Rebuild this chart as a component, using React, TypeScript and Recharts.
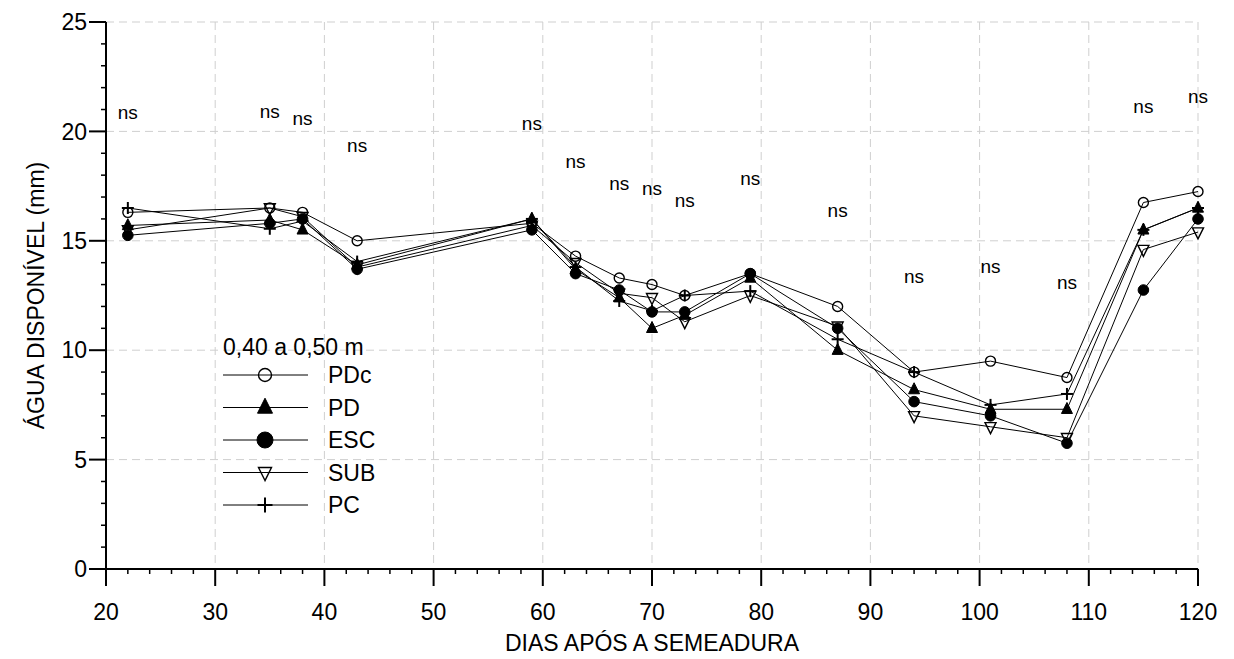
import React from "react";
import { LineChart, Line, XAxis, YAxis, CartesianGrid, Legend } from "recharts";

const days = [22, 35, 38, 43, 59, 63, 67, 70, 73, 79, 87, 94, 101, 108, 115, 120];
const pdc = [16.3, 16.5, 16.3, 15.0, 15.8, 14.3, 13.3, 13.0, 12.5, 13.5, 12.0, 9.0, 9.5, 8.75, 16.75, 17.25];
const pd = [15.7, 15.95, 15.5, 13.9, 16.0, 13.7, 12.4, 11.0, 11.6, 13.3, 10.0, 8.2, 7.3, 7.3, 15.5, 16.5];
const esc = [15.25, 15.8, 16.0, 13.7, 15.5, 13.5, 12.75, 11.75, 11.75, 13.5, 11.0, 7.65, 7.0, 5.75, 12.75, 16.0];
const sub = [15.5, 16.5, 16.1, 13.8, 15.7, 14.0, 12.6, 12.4, 11.3, 12.5, 11.1, 7.0, 6.5, 6.0, 14.6, 15.4];
const pc = [16.5, 15.55, 15.9, 14.05, 16.0, 13.8, 12.25, 11.8, 12.5, 12.7, 10.5, 9.0, 7.5, 8.0, 15.5, 16.5];
// height where the "ns" note sits above each date
const nsLevel = [20.86, 20.93, 20.6, 19.38, 20.38, 18.65, 17.63, 17.4, 16.88, 17.87, 16.4, 13.4, 13.85, 13.1, 21.15, 21.63];

const seriesOrder = ["PDc", "PD", "ESC", "SUB", "PC"];
const xTicks = Array.from({ length: 51 }, (_, i) => 20 + i * 2);
const yTicks = Array.from({ length: 26 }, (_, i) => i);

const legendTitle = "0,40 a 0,50 m";
const FONT = "'Liberation Sans', Arial, sans-serif";

const data = days.map((d, i) => ({
  day: d,
  PDc: pdc[i],
  PD: pd[i],
  ESC: esc[i],
  SUB: sub[i],
  PC: pc[i],
  ns: nsLevel[i],
}));

type M = { cx: number; cy: number; s: number };

const OpenCircle = ({ cx, cy, s }: M) => <circle cx={cx} cy={cy} r={s} fill="none" stroke="#000" strokeWidth={1.4} />;
const FilledCircle = ({ cx, cy, s }: M) => <circle cx={cx} cy={cy} r={s} fill="#000" stroke="#000" />;
const TriUp = ({ cx, cy, s }: M) => (
  <polygon
    points={`${cx},${cy - s * 0.62} ${cx - s / 2},${cy + s * 0.38} ${cx + s / 2},${cy + s * 0.38}`}
    fill="#000"
    stroke="#000"
  />
);
const TriDown = ({ cx, cy, s }: M) => (
  <polygon
    points={`${cx},${cy + s * 0.62} ${cx - s / 2},${cy - s * 0.38} ${cx + s / 2},${cy - s * 0.38}`}
    fill="none"
    stroke="#000"
    strokeWidth={1.4}
  />
);
const Plus = ({ cx, cy, s }: M) => (
  <g stroke="#000" strokeWidth={2}>
    <line x1={cx - s / 2} y1={cy} x2={cx + s / 2} y2={cy} />
    <line x1={cx} y1={cy - s / 2} x2={cx} y2={cy + s / 2} />
  </g>
);

const markers: Record<string, { C: (p: M) => React.ReactElement; chart: number; legend: number }> = {
  PDc: { C: OpenCircle, chart: 5, legend: 6.5 },
  PD: { C: TriUp, chart: 11, legend: 15 },
  ESC: { C: FilledCircle, chart: 5.3, legend: 8 },
  SUB: { C: TriDown, chart: 11, legend: 13 },
  PC: { C: Plus, chart: 12, legend: 15 },
};

const dotFor = (key: string) => (p: any) => {
  const m = markers[key];
  return <m.C key={`${key}-${p.index}`} cx={p.cx} cy={p.cy} s={m.chart} />;
};

const XTick = (p: any) => {
  const v = p.payload.value;
  const major = v % 10 === 0;
  return (
    <g>
      <line x1={p.x} y1={p.y} x2={p.x} y2={p.y + (major ? 17 : 5)} stroke="#000" strokeWidth={major ? 2 : 1.5} />
      {major && (
        <text x={p.x} y={p.y + 51} textAnchor="middle" fontSize={23} fontFamily={FONT} fill="#000">
          {v}
        </text>
      )}
    </g>
  );
};

const YTick = (p: any) => {
  const v = p.payload.value;
  const major = v % 5 === 0;
  return (
    <g>
      <line x1={p.x} y1={p.y} x2={p.x - (major ? 17 : 5)} y2={p.y} stroke="#000" strokeWidth={major ? 2 : 1.5} />
      {major && (
        <text x={p.x - 19} y={p.y} dy="0.36em" textAnchor="end" fontSize={23} fontFamily={FONT} fill="#000">
          {v}
        </text>
      )}
    </g>
  );
};

const nsLabel = (p: any) => (
  <text key={`ns-${p.index}`} x={p.x} y={p.y} dy="0.36em" textAnchor="middle" fontSize={19} fontFamily={FONT} fill="#000">
    ns
  </text>
);

const LegendBox = (props: any) => {
  const items = (props.payload || [])
    .filter((e: any) => markers[e.dataKey])
    .sort((a: any, b: any) => seriesOrder.indexOf(a.dataKey) - seriesOrder.indexOf(b.dataKey));
  return (
    <svg width={200} height={200} style={{ display: "block", overflow: "visible" }}>
      <text x={8} y={30} fontSize={23} fontFamily={FONT} fill="#000">
        {legendTitle}
      </text>
      {items.map((e: any, i: number) => {
        const m = markers[e.dataKey];
        const cy = 50 + i * 32.5;
        return (
          <g key={e.dataKey}>
            <line x1={8} y1={cy} x2={93} y2={cy} stroke="#000" strokeWidth={1} />
            <m.C cx={50} cy={cy} s={m.legend} />
            <text x={113} y={cy} dy="0.36em" fontSize={23} fontFamily={FONT} fill="#000">
              {e.value}
            </text>
          </g>
        );
      })}
    </svg>
  );
};

export default function App() {
  return (
    <div style={{ position: "absolute", left: 0, top: 0, background: "#fff" }}>
      <LineChart width={1234} height={659} data={data} margin={{ top: 22, right: 36, bottom: 0, left: 0 }}>
        <CartesianGrid
          stroke="#cfcfcf"
          strokeDasharray="8 5"
          horizontalValues={[5, 10, 15, 20, 25]}
          verticalValues={[30, 40, 50, 60, 70, 80, 90, 100, 110, 120]}
        />
        <XAxis
          dataKey="day"
          type="number"
          domain={[20, 120]}
          ticks={xTicks}
          interval={0}
          tickSize={0}
          tickMargin={0}
          tickLine={false}
          tick={<XTick />}
          axisLine={{ stroke: "#000", strokeWidth: 2 }}
          height={90}
          label={{ value: "DIAS APÓS A SEMEADURA", position: "insideBottom", offset: 8, fontSize: 23, fill: "#000", fontFamily: FONT }}
        />
        <YAxis
          type="number"
          domain={[0, 25]}
          ticks={yTicks}
          interval={0}
          tickSize={0}
          tickMargin={0}
          tickLine={false}
          tick={<YTick />}
          axisLine={{ stroke: "#000", strokeWidth: 2 }}
          width={106}
          label={{
            value: "ÁGUA DISPONÍVEL (mm)",
            angle: -90,
            position: "insideLeft",
            offset: 36,
            fontSize: 23,
            fill: "#000",
            fontFamily: FONT,
            style: { textAnchor: "middle" },
          }}
        />
        <Line dataKey="PDc" name="PDc" stroke="#000" strokeWidth={1} dot={dotFor("PDc")} activeDot={false} isAnimationActive={false} />
        <Line dataKey="PD" name="PD" stroke="#000" strokeWidth={1} dot={dotFor("PD")} activeDot={false} isAnimationActive={false} />
        <Line dataKey="ESC" name="ESC" stroke="#000" strokeWidth={1} dot={dotFor("ESC")} activeDot={false} isAnimationActive={false} />
        <Line dataKey="SUB" name="SUB" stroke="#000" strokeWidth={1} dot={dotFor("SUB")} activeDot={false} isAnimationActive={false} />
        <Line dataKey="PC" name="PC" stroke="#000" strokeWidth={1} dot={dotFor("PC")} activeDot={false} isAnimationActive={false} />
        <Line
          dataKey="ns"
          stroke="none"
          dot={false}
          activeDot={false}
          legendType="none"
          label={nsLabel}
          isAnimationActive={false}
        />
        <Legend
          layout="horizontal"
          verticalAlign="middle"
          align="center"
          content={<LegendBox />}
          wrapperStyle={{ left: 215, top: 325, width: 200 }}
        />
      </LineChart>
    </div>
  );
}
